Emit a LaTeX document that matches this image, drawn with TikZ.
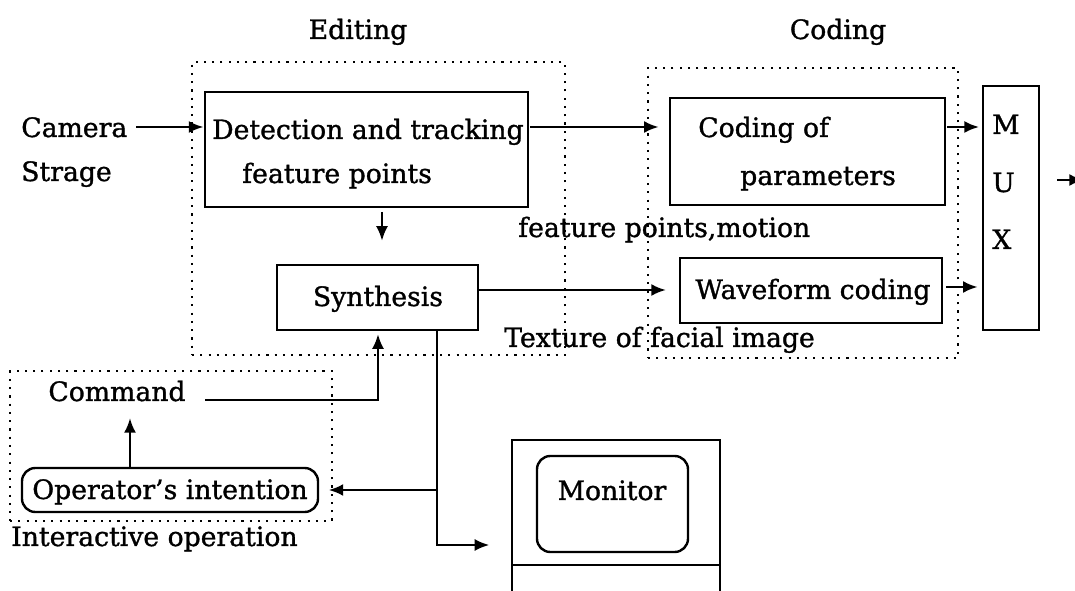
\documentclass[tikz,border=0pt]{standalone}
\usepackage{fontspec}
\setmainfont{DejaVu Serif}[FakeBold=1.2]
\usetikzlibrary{fit,arrows.meta}
\begin{document}
\begin{tikzpicture}[x=0.75pt,y=-0.75pt,
  every node/.style={font=\fontsize{20}{24}\selectfont, inner sep=0pt},
  box/.style={draw, line width=2.2pt, inner sep=0pt},
  thinbox/.style={draw, line width=1pt, inner sep=0pt},
  rbox/.style={draw, line width=1.8pt, rounded corners=10pt, inner sep=0pt},
  grp/.style={draw, line width=1.6pt, dash pattern=on 1.6pt off 4.6pt, inner sep=0pt},
  arr/.style={line width=1.9pt, -{Latex[length=11pt,width=9pt]}},
  ln/.style={line width=1.9pt}]
\clip (0,0) rectangle (1075,591);
\fill[white] (0,0) rectangle (1075,591);

% group frames
\node[grp, fit={(192,62)(565,355)}] (editgrp) {};
\node[grp, fit={(648,68)(958,358)}] (codegrp) {};
\node[grp, fit={(10,371)(332,521)}] (intgrp) {};

% labels
\node[anchor=base] (editlbl) at (358,39) {Editing};
\node[anchor=base] (codelbl) at (838,39) {Coding};
\node[anchor=base west] (cam) at (21,137) {Camera};
\node[anchor=base west] (str) at (21,181) {Strage};

% boxes
\node[box, fit={(205,92)(528,207)}] (det) {};
\node[anchor=base west] (dett1) at (212,139) {Detection and tracking};
\node[anchor=base west] (dett2) at (242,183) {feature points};

\node[box, fit={(277,265)(478,330)}] (syn) {};
\node[anchor=base] (synt) at (378,306) {Synthesis};

\node[box, line width=1.9pt, fit={(670,98)(945,205)}] (cpar) {};
\node[anchor=base west] (cpart1) at (698,137) {Coding of};
\node[anchor=base west] (cpart2) at (740,185) {parameters};

\node[thinbox, fit={(680,258)(942,323)}] (wave) {};
\node[anchor=base] (wavet) at (813,299) {Waveform coding};

\node[box, line width=1.9pt, fit={(983,86)(1039,330)}] (mux) {};
\node[anchor=base west] (muxm) at (992,134) {M};
\node[anchor=base west] (muxu) at (992,192) {U};
\node[anchor=base west] (muxx) at (992,249) {X};

\node[anchor=base west] (fpm) at (518,237) {feature points,motion};
\node[anchor=base west] (tex) at (504,347) {Texture of facial image};

\node[anchor=base] (cmd) at (117,401) {Command};
\node[rbox, fit={(22,468)(318,512)}] (op) {};
\node[anchor=base] (opt) at (170,499) {Operator’s intention};
\node[anchor=base west] (inter) at (11,546) {Interactive operation};

% monitor
\node[box, line width=1.9pt, fit={(512,440)(720,640)}] (mon) {};
\node[rbox, fit={(537,456)(688,552)}] (screen) {};
\node[anchor=base] (mont) at (612,500) {Monitor};
\coordinate (monl) at (512,565);
\coordinate (monr) at (720,565);
\draw[line width=1.9pt] (monl) -- (monr);

% connectors
\coordinate (c1) at (136,127);
\draw[arr] (c1) -- (c1 -| det.west);
\coordinate (c2) at (530,127);
\draw[arr] (c2) -- ([xshift=-7.5pt]c2 -| cpar.west);
\coordinate (c3) at (947,127);
\draw[arr] (c3) -- ([xshift=-2pt]c3 -| mux.west);
\coordinate (c4) at (382,212);
\draw[arr] (c4) -- ([yshift=17pt]c4 |- syn.north);
\coordinate (c5) at (478,290);
\draw[arr] (c5) -- ([xshift=-10pt]c5 -| wave.west);
\coordinate (c6) at (946,287);
\draw[arr] (c6) -- ([xshift=-3pt]c6 -| mux.west);
\coordinate (c7) at (1057,180);
\coordinate (c8) at (1084,180);
\draw[arr] (c7) -- (c8);

\coordinate (cm1) at (205,400);
\coordinate (cm2) at (378,400);
\draw[arr] (cm1) -- (cm2) -- ([yshift=-2pt]cm2 |- syn.south);
\coordinate (o1) at (130,418);
\draw[arr] (o1 |- op.north) -- (o1);

\coordinate (s1) at (437,330);
\coordinate (s2) at (437,545);
\coordinate (s3) at (437,490);
\draw[arr] (s1) -- (s2) -- ([xshift=-16pt]s2 -| mon.west);
\draw[arr] (s3) -- ([xshift=7pt]s3 -| op.east);
\end{tikzpicture}
\end{document}
